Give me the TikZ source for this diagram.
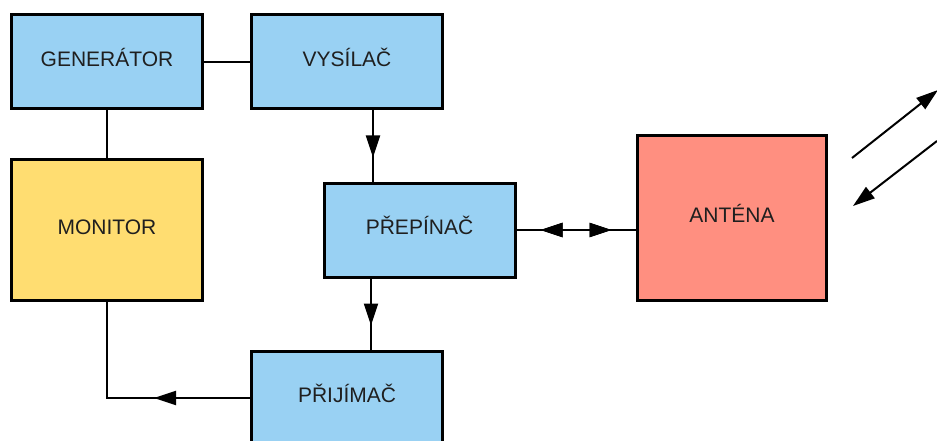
\documentclass[tikz,border=0pt]{standalone}
\usepackage{fontspec}
\setmainfont{Liberation Sans}
\usetikzlibrary{arrows.meta,decorations.markings}

\definecolor{boxblue}{HTML}{99D1F3}
\definecolor{boxyellow}{HTML}{FFDD71}
\definecolor{boxred}{HTML}{FF8F80}

\begin{document}
\begin{tikzpicture}[x=1pt,y=-1pt,
    block/.style={draw=black, line width=3pt, fill=boxblue, minimum width=191pt,
        minimum height=94pt, inner sep=0pt, text=black!88, text height=15pt, text depth=6pt,
        font=\fontsize{21}{25}\selectfont},
    wire/.style={line width=2pt},
    tiphead/.style={-{Triangle[length=22pt,width=14pt]}},
    midtip/.style={postaction={decorate}, decoration={markings,
        mark=at position #1 with {\arrow{Triangle[length=22pt,width=14pt]}}}},
    midback/.style={postaction={decorate}, decoration={markings,
        mark=at position #1 with {\arrowreversed{Triangle[length=22pt,width=14pt]}}}}]
    \useasboundingbox (0,0) rectangle (937,441);

    % blocks
    \node[block] (generator) at (107,62) {GENERÁTOR};
    \node[block] (vysilac) at (347,62) {VYSÍLAČ};
    \node[block, fill=boxyellow, minimum height=141pt] (monitor) at (107,230) {MONITOR};
    \node[block] (prepinac) at (419.5,230) {PŘEPÍNAČ};
    \node[block, fill=boxred, minimum width=189pt, minimum height=165pt] (antena) at (732,218) {ANTÉNA};
    \node[block] (prijimac) at (347,398) {PŘIJÍMAČ};

    % plain links
    \draw[wire] (generator.east) -- (vysilac.west);
    \draw[wire] (generator.south) -- (monitor.north);

    % signal path
    \draw[wire, midtip=47pt] ([xshift=26pt]vysilac.south) -- ([xshift=26pt]vysilac.south |- prepinac.north);
    \draw[wire, midtip=47pt] ([xshift=-48.5pt]prepinac.south) -- ([xshift=-48.5pt]prepinac.south |- prijimac.north);
    \draw[wire, midtip=96pt] (prijimac.west) -| (monitor.south);
    \draw[wire, midback=24pt, midtip=95pt] (prepinac.east) -- (antena.west |- prepinac.east);

    % radiated and received waves
    \coordinate (outS) at (852,158);
    \coordinate (outE) at (938,90);
    \coordinate (inS) at (937,141);
    \coordinate (inE) at (853,206);
    \draw[wire, tiphead] (outS) -- (outE);
    \draw[wire, tiphead] (inS) -- (inE);
\end{tikzpicture}
\end{document}
